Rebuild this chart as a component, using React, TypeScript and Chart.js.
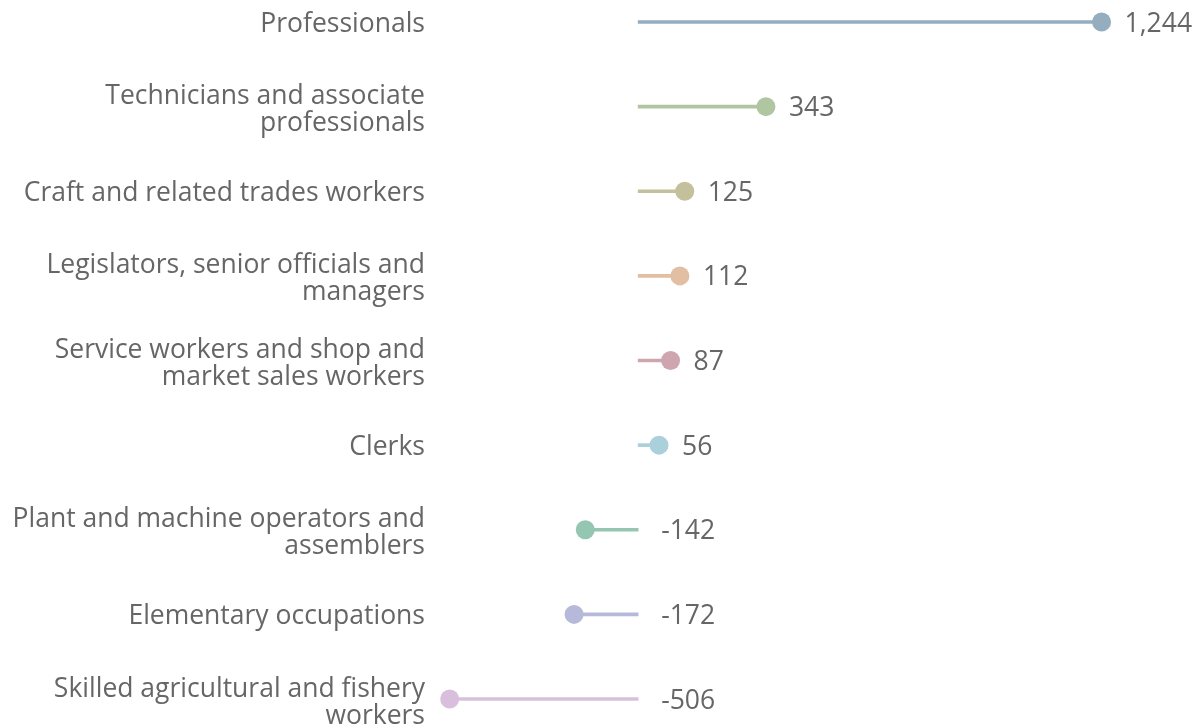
import React, { useEffect, useRef } from "react";
import { Chart, registerables } from "chart.js";

Chart.register(...registerables);

const categories: (string | string[])[] = [
  "Professionals",
  ["Technicians and associate", "professionals"],
  "Craft and related trades workers",
  ["Legislators, senior officials and", "managers"],
  ["Service workers and shop and", "market sales workers"],
  "Clerks",
  ["Plant and machine operators and", "assemblers"],
  "Elementary occupations",
  ["Skilled agricultural and fishery", "workers"],
];

const values: number[] = [1244, 343, 125, 112, 87, 56, -142, -172, -506];

const colors: string[] = [
  "#94aec0",
  "#b0c6a0",
  "#c4c09c",
  "#e2bfa2",
  "#cfa6b0",
  "#aad0dc",
  "#94c6b2",
  "#b6b9da",
  "#d8c0dc",
];

const FONT = "'Open Sans', sans-serif";
const TEXT_COLOR = "#666666";
const FONT_SIZE = 26.5;
const LINE_GAP = 27;

const textPlugin = {
  id: "textPlugin",
  afterDatasetsDraw(chart: any) {
    const ctx = chart.ctx;
    const xs = chart.scales.x;
    const ys = chart.scales.y;
    ctx.save();
    ctx.font = `${FONT_SIZE}px ${FONT}`;
    ctx.fillStyle = TEXT_COLOR;
    ctx.textBaseline = "alphabetic";
    // value labels
    ctx.textAlign = "left";
    values.forEach((v, i) => {
      const x = xs.getPixelForValue(Math.max(v, 0)) + 23;
      const y = ys.getPixelForValue(i);
      ctx.fillText(v.toLocaleString("en-US"), x, y + 9.5);
    });
    // category labels
    ctx.textAlign = "right";
    const labelX = chart.chartArea.left - 12;
    categories.forEach((c, i) => {
      const lines = Array.isArray(c) ? c : [c];
      const y = ys.getPixelForValue(i);
      const n = lines.length;
      lines.forEach((line, j) => {
        const base = n === 1 ? y + 9.5 : y + 11 + (j - (n - 1) / 2) * LINE_GAP;
        ctx.fillText(line, labelX, base);
      });
    });
    ctx.restore();
  },
};

export default function App() {
  const ref = useRef<HTMLCanvasElement>(null);
  useEffect(() => {
    if (!ref.current) return;
    const chart = new Chart(ref.current, {
      type: "bar",
      data: {
        labels: categories as any,
        datasets: [
          {
            type: "bar",
            data: values,
            backgroundColor: colors,
            barThickness: 3,
            clip: false as any,
          } as any,
          {
            type: "line",
            data: values,
            showLine: false,
            pointRadius: 9.5,
            pointHoverRadius: 9.5,
            pointBackgroundColor: colors,
            pointBorderWidth: 0,
            clip: false as any,
          } as any,
        ],
      },
      options: {
        indexAxis: "y",
        animation: false,
        responsive: false,
        maintainAspectRatio: false,
        layout: { padding: { top: 22, bottom: 25, left: 0, right: 0 } },
        plugins: {
          legend: { display: false },
          tooltip: { enabled: false },
        },
        scales: {
          x: {
            display: false,
            min: -540,
            max: 1472,
          },
          y: {
            type: "category",
            offset: false,
            grid: { display: false, drawTicks: false },
            border: { display: false },
            ticks: { display: false },
            afterFit(scale: any) {
              scale.width = 437;
              scale.paddingTop = 0;
              scale.paddingBottom = 0;
              scale.paddingLeft = 0;
              scale.paddingRight = 0;
            },
          },
        },
      } as any,
      plugins: [textPlugin],
    });
    return () => chart.destroy();
  }, []);
  return (
    <div style={{ position: "fixed", left: 0, top: 0, width: 1196, height: 724, background: "#fff" }}>
      <canvas ref={ref} width={1196} height={724} style={{ width: 1196, height: 724 }} />
    </div>
  );
}
